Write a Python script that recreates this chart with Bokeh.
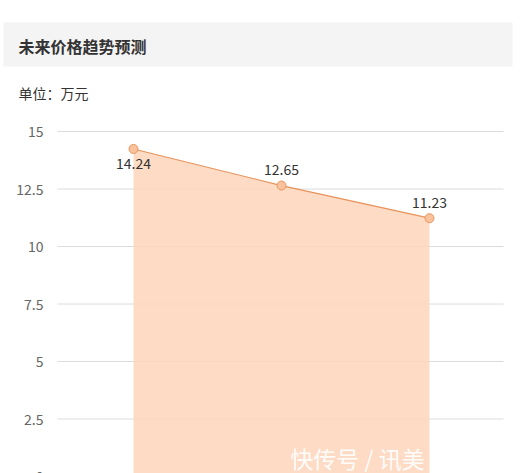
from bokeh.plotting import figure
from bokeh.models import Range1d, ColumnDataSource
from bokeh.embed import file_html
from bokeh.resources import INLINE
from bokeh.core.properties import value

# ---- data ----
periods = ["第1年", "第2年", "第3年"]
prices = [14.24, 12.65, 11.23]
price_labels = ["14.24", "12.65", "11.23"]
tick_values = [0, 2.5, 5, 7.5, 10, 12.5, 15]
tick_labels = ["0", "2.5", "5", "7.5", "10", "12.5", "15"]
title_text = "未来价格趋势预测"
unit_text = "单位：万元"
watermark = "快传号 / 讯美"

# ---- geometry (pixels of the reference image) ----
W, H = 530, 473
OX, OY = 0, 0
PX_PER_UNIT_Y = 23.0       # 2.5 units -> 57.5 px
ZERO_Y = 476.0             # ref pixel y of value 0
PX_PER_CAT = 148.0
CAT0_X = 133.0             # ref pixel x of first category

def dx(px):
    return (px - CAT0_X) / PX_PER_CAT

def dy(py):
    return (ZERO_Y - py) / PX_PER_UNIT_Y

x_start, x_end = dx(OX), dx(OX + W)
y_top, y_bot = dy(OY), dy(OY + H)

p = figure(width=W, height=H, output_backend="svg", toolbar_location=None,
           x_range=Range1d(x_start, x_end), y_range=Range1d(y_bot, y_top),
           min_border=0, outline_line_color=None)
p.axis.visible = False
p.xgrid.visible = False
p.ygrid.visible = False
p.background_fill_color = "white"
p.border_fill_color = "white"

FONT = value("Noto Sans CJK SC")

# header band
p.quad(left=[dx(3)], right=[dx(512)], bottom=[dy(66)], top=[dy(22)],
       fill_color="#f4f4f4", line_color=None)
p.text(x=[dx(18)], y=[dy(45)], text=[title_text], text_font=FONT,
       text_font_size="16px", text_font_style="bold", text_color="#333333",
       text_baseline="middle", text_align="left")
p.text(x=[dx(18)], y=[dy(92)], text=[unit_text], text_font=FONT,
       text_font_size="14px", text_color="#333333",
       text_baseline="middle", text_align="left")

# gridlines
n = len(tick_values)
p.segment(x0=[dx(57)] * n, x1=[dx(503)] * n, y0=tick_values, y1=tick_values,
          line_color="#dcdcdc", line_width=1)

# tick labels
p.text(x=[dx(43)] * n, y=tick_values, text=tick_labels, text_font=FONT,
       text_font_size="14px", text_color="#666666",
       text_baseline="middle", text_align="right")

# area + line + markers
xs = list(range(len(prices)))
src = ColumnDataSource(dict(x=xs, y=prices, lab=price_labels))
p.varea(x=xs, y1=[0] * len(prices), y2=prices, fill_color="#fdd5bb", fill_alpha=0.85)
p.line(x="x", y="y", source=src, line_color="#e8925a", line_width=1.2)
p.scatter(x="x", y="y", source=src, size=9, fill_color="#f8c39c",
          line_color="#e8965e", line_width=1)

# value labels: first below, others above
label_off = [-1, 1, 1]
for i in range(len(prices)):
    yoff = 15 if label_off[i] < 0 else -16
    p.text(x=[xs[i]], y=[prices[i]], text=[price_labels[i]], text_font=FONT,
           text_font_size="14px", text_color="#333333",
           text_align="center", text_baseline="middle", y_offset=yoff)

# watermark
p.text(x=[dx(357)], y=[dy(457)], text=[watermark], text_font=FONT,
       text_font_size="23px", text_color="white", text_alpha=0.95,
       text_align="center", text_baseline="middle")

open("out.html", "w").write(file_html(p, INLINE))
